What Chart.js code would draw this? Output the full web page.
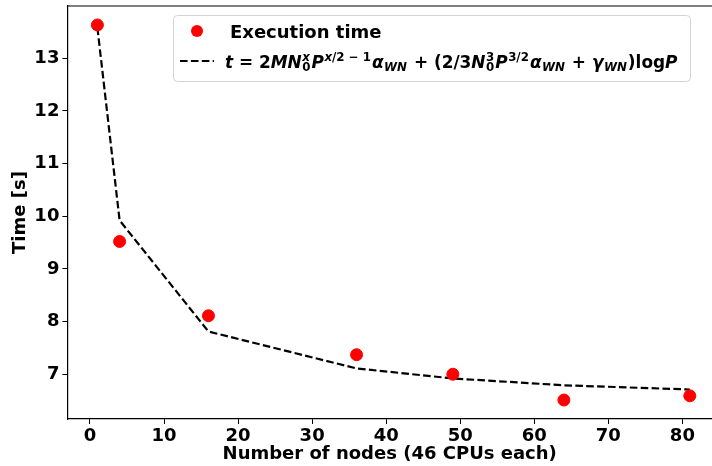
<!DOCTYPE html>
<html><head><meta charset="utf-8">
<script src="https://cdn.jsdelivr.net/npm/chart.js@4/dist/chart.umd.min.js"></script>
<style>
html,body{margin:0;padding:0;background:#fff;overflow:hidden;width:712px;height:466px}
canvas{display:block}
</style></head>
<body><canvas id="c" width="712" height="466"></canvas>
<script>
const nodes = [1, 4, 16, 36, 49, 64, 81];
const execTime = [13.63, 9.52, 8.11, 7.37, 7.00, 6.51, 6.59];
const modelTime = [13.58, 9.92, 7.81, 7.11, 6.92, 6.79, 6.71];
const xTicks = [0, 10, 20, 30, 40, 50, 60, 70, 80];
const yTicks = [7, 8, 9, 10, 11, 12, 13];
const xTitle = 'Number of nodes (46 CPUs each)';
const yTitle = 'Time [s]';
const label1 = 'Execution time';
// formula pieces: [text, italic]
const formula = [
  {t:[['t',1],[' = 2',0],['MN',1]]},
  {sub:[['0',0]], sup:[['x',1]]},
  {t:[['P',1]]},
  {sup:[['x',1],['/2 − 1',0]]},
  {t:[['α',1]]},
  {sub:[['WN',1]]},
  {t:[[' + (2/3',0],['N',1]]},
  {sub:[['0',0]], sup:[['3',0]]},
  {t:[['P',1]]},
  {sup:[['3/2',0]]},
  {t:[['α',1]]},
  {sub:[['WN',1]]},
  {t:[[' + ',0],['γ',1]]},
  {sub:[['WN',1]]},
  {t:[[')log',0],['P',1]]}
];

const FF = '"DejaVu Sans", sans-serif';
const F = 18;
const fnt = (it, s) => (it ? 'italic ' : '') + 'bold ' + s + 'px ' + FF;

function runs(ctx, x, y, arr, size, draw){
  for (const [s, it] of arr){
    ctx.font = fnt(it, size);
    if (draw) ctx.fillText(s, x, y);
    x += ctx.measureText(s).width;
  }
  return x;
}
function drawFormula(ctx, x, y, size, draw){
  const ss = size * 0.7;
  for (const g of formula){
    if (g.t){ x = runs(ctx, x, y, g.t, size, draw); }
    else {
      let w = x;
      if (g.sub) w = Math.max(w, runs(ctx, x + 0.5, y + size*0.2, g.sub, ss, draw));
      if (g.sup) w = Math.max(w, runs(ctx, x + 0.5, y - size*0.42, g.sup, ss, draw));
      x = w + 1;
    }
  }
  return x;
}

const framePlugin = {
  id: 'frame',
  afterDraw(chart){
    const ctx = chart.ctx, a = chart.chartArea;
    ctx.save();
    ctx.strokeStyle = '#000'; ctx.lineWidth = 1.2;
    ctx.beginPath(); ctx.moveTo(a.left, a.top); ctx.lineTo(a.right + 2, a.top); ctx.stroke();
    // legend
    const bx = 173.5, by = 15.5, bw = 517, bh = 66, r = 4;
    ctx.fillStyle = 'rgba(255,255,255,0.8)';
    ctx.strokeStyle = '#d3d3d3'; ctx.lineWidth = 1;
    ctx.beginPath(); ctx.roundRect(bx, by, bw, bh, r); ctx.fill(); ctx.stroke();
    ctx.fillStyle = '#ff0000';
    ctx.beginPath(); ctx.arc(197, 31, 6, 0, Math.PI*2); ctx.fill();
    ctx.strokeStyle = '#000'; ctx.lineWidth = 2.2; ctx.setLineDash([7.6, 3.3]);
    ctx.beginPath(); ctx.moveTo(180, 61); ctx.lineTo(214, 61); ctx.stroke();
    ctx.setLineDash([]);
    ctx.fillStyle = '#000'; ctx.textBaseline = 'alphabetic'; ctx.textAlign = 'left';
    ctx.font = fnt(0, F); ctx.fillText(label1, 230, 37.5);
    const natural = drawFormula(ctx, 0, 0, F, false);
    const size = F * Math.min(1.05, Math.max(0.85, 452 / natural));
    drawFormula(ctx, 225, 68, size, true);
    ctx.restore();
  }
};

const tickFont = {family: FF, size: F, weight: 'bold'};
new Chart(document.getElementById('c'), {
  type: 'scatter',
  data: {
    datasets: [
      {label: label1, data: nodes.map((x,i)=>({x, y: execTime[i]})), backgroundColor: '#ff0000', borderColor: '#ff0000', pointRadius: 6, pointHoverRadius: 6, showLine: false, order: 0},
      {label: 'model', data: nodes.map((x,i)=>({x, y: modelTime[i]})), borderColor: '#000', borderWidth: 2.2, borderDash: [7.6, 3.3], pointRadius: 0, showLine: true, fill: false, tension: 0, order: 1}
    ]
  },
  options: {
    responsive: false, animation: false, devicePixelRatio: 1,
    layout: {autoPadding: false, padding: {top: 6, right: 0, left: 0, bottom: 0}},
    plugins: {legend: {display: false}, tooltip: {enabled: false}},
    scales: {
      x: {
        type: 'linear', min: -3.05, max: 84.0,
        afterFit(s){ s.height = 47; s.paddingLeft = 0; s.paddingRight = 0; },
        afterBuildTicks(s){ s.ticks = xTicks.map(v => ({value: v})); },
        grid: {drawOnChartArea: false, drawTicks: true, tickLength: 5, color: '#000', lineWidth: 1},
        border: {display: true, color: '#000', width: 1.2},
        ticks: {color: '#000', font: tickFont, padding: 2, maxRotation: 0, autoSkip: false},
        title: {display: true, text: xTitle, color: '#000', font: tickFont, padding: {top: 0, bottom: 1}}
      },
      y: {
        type: 'linear', min: 6.15, max: 13.99,
        afterFit(s){ s.width = 67.4; s.paddingTop = 0; s.paddingBottom = 0; },
        afterBuildTicks(s){ s.ticks = yTicks.map(v => ({value: v})); },
        grid: {drawOnChartArea: false, drawTicks: true, tickLength: 5, color: '#000', lineWidth: 1},
        border: {display: true, color: '#000', width: 1.2},
        ticks: {color: '#000', font: tickFont, padding: 3, autoSkip: false},
        title: {display: true, text: yTitle, color: '#000', font: tickFont, padding: {top: 10, bottom: 0}}
      }
    }
  },
  plugins: [framePlugin]
});
</script></body></html>
